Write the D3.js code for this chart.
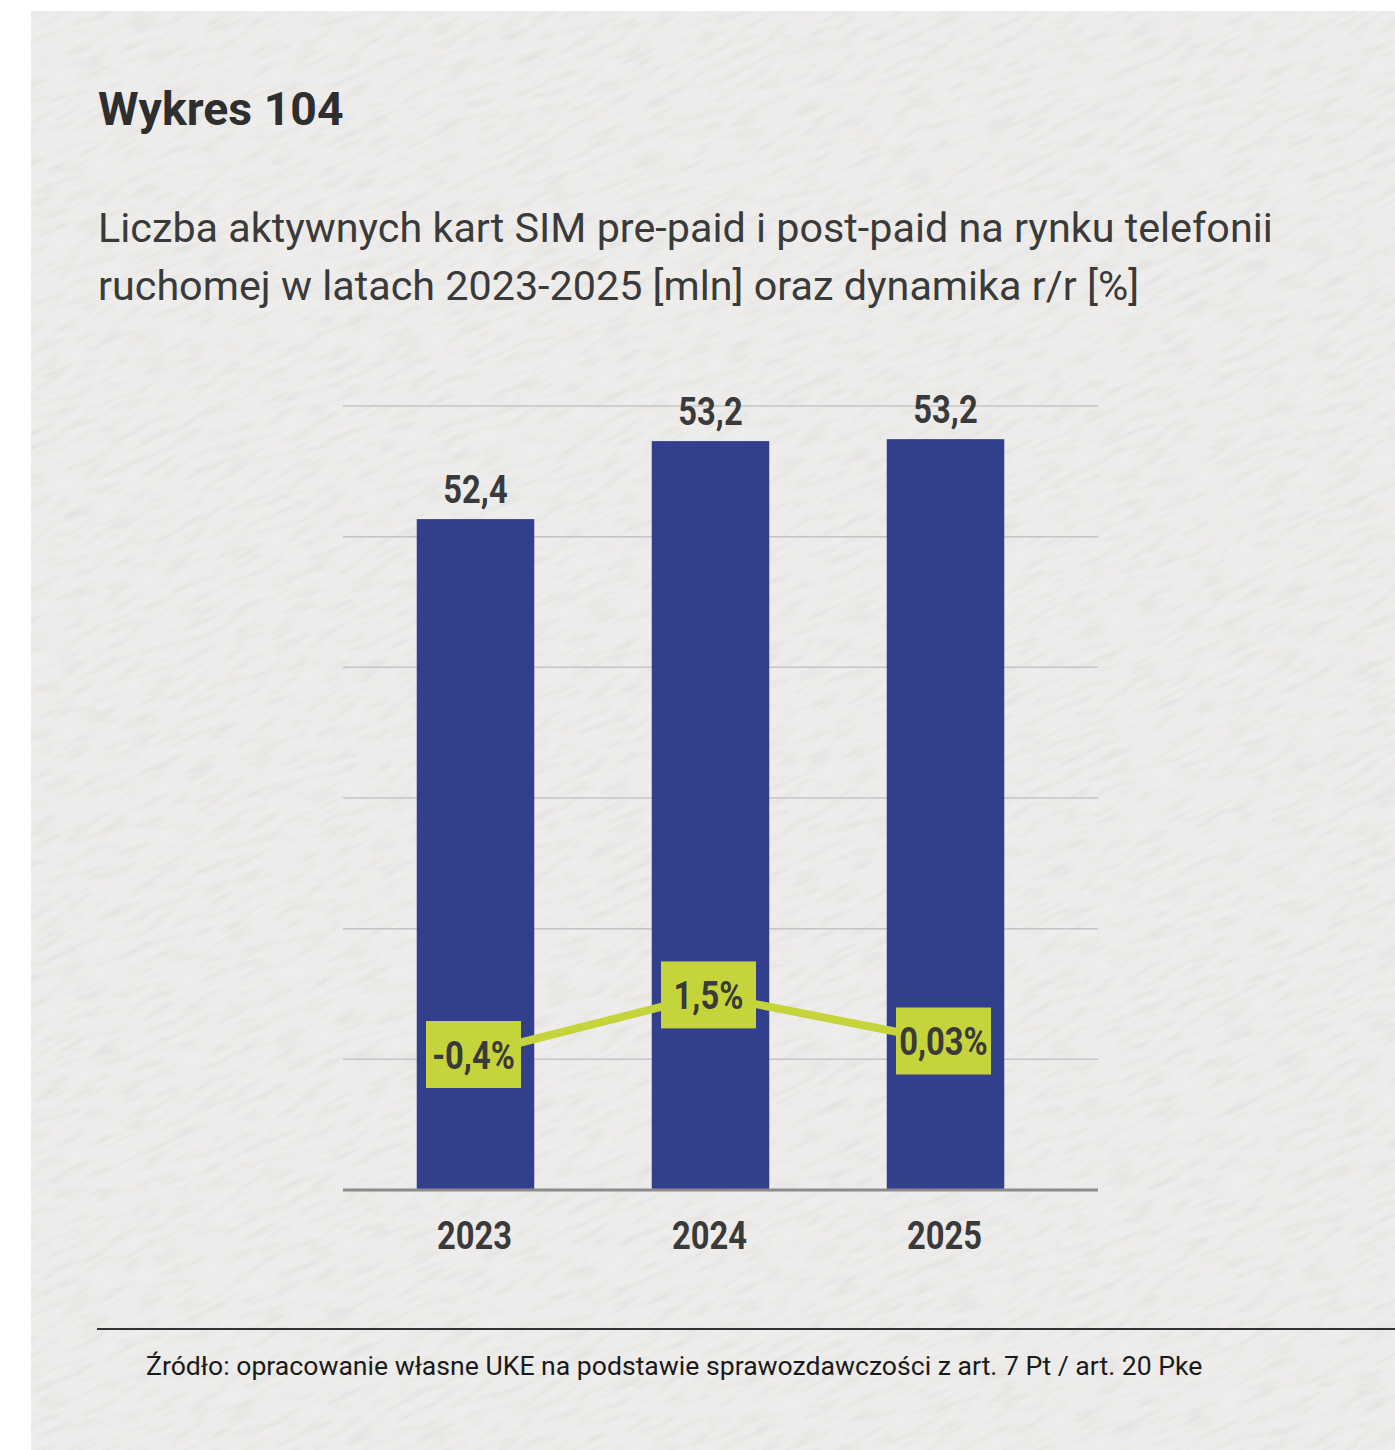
<!DOCTYPE html>
<html><head><meta charset="utf-8">
<script src="https://cdn.jsdelivr.net/npm/d3@7"></script>
<style>
html,body{margin:0;padding:0;background:#fff;}
svg{display:block;}
</style></head>
<body>
<script>
const categories = ["2023", "2024", "2025"];
const simCards = [52.4, 53.2, 53.22];          // mln
const simLabels = ["52,4", "53,2", "53,2"];
const growth = [-0.4, 1.5, 0.03];               // % r/r
const growthLabels = ["-0,4%", "1,5%", "0,03%"];
const titleText = "Wykres 104";
const subtitleLines = ["Liczba aktywnych kart SIM pre-paid i post-paid na rynku telefonii",
                       "ruchomej w latach 2023-2025 [mln] oraz dynamika r/r [%]"];
const sourceText = "Źródło: opracowanie własne UKE na podstawie sprawozdawczości z art. 7 Pt / art. 20 Pke";

const W = 1395, H = 1450;
const svg = d3.select("body").append("svg").attr("width", W).attr("height", H);

// paper texture
const defs = svg.append("defs");
const f = defs.append("filter").attr("id","paper").attr("x",0).attr("y",0).attr("width","100%").attr("height","100%");
f.append("feTurbulence").attr("type","fractalNoise").attr("baseFrequency","0.03 0.14").attr("numOctaves",4).attr("seed",7).attr("result","n");
f.append("feColorMatrix").attr("in","n").attr("type","matrix")
  .attr("values","0 0 0 0 0.55  0 0 0 0 0.54  0 0 0 0 0.53  0 0 -1.8 0 1.0").attr("result","c");
f.append("feComposite").attr("in","c").attr("in2","SourceGraphic").attr("operator","in");
defs.append("clipPath").attr("id","pclip").append("rect").attr("x",31).attr("y",11).attr("width",W-31).attr("height",H-11);

svg.append("rect").attr("x",0).attr("y",0).attr("width",W).attr("height",H).attr("fill","#fff");
const panel = svg.append("g").attr("clip-path","url(#pclip)");
panel.append("rect").attr("x",31).attr("y",11).attr("width",W-31).attr("height",H-11).attr("fill","#efedeb");
panel.append("g").attr("transform","rotate(-25 700 700)")
  .append("rect").attr("x",-400).attr("y",-400).attr("width",2200).attr("height",2200)
  .attr("fill","#000").attr("filter","url(#paper)").attr("opacity",0.3);

// title
svg.append("text").attr("x",98).attr("y",125).text(titleText)
  .attr("font-family","Roboto").attr("font-weight",700).attr("font-size",46.4).attr("fill","#2e2e2e");
svg.append("g").selectAll("text").data(subtitleLines).join("text")
  .attr("x",98).attr("y",(d,i)=>242+i*58).text(d=>d)
  .attr("font-family","Roboto").attr("font-weight",400).attr("font-size",41.3).attr("fill","#3a3a3a");

// scales
const x = d3.scaleBand().domain(categories).range([358,1063]).paddingInner(0.5).paddingOuter(0.25);
const y = d3.scaleLinear().domain([45.52, 53.56]).range([1190, 406]);
const yP = d3.scaleLinear().domain([-0.4, 1.5]).range([1054.5, 994.9]);

// gridlines
const gridVals = d3.range(1,7).map(i => y.domain()[0] + i*(y.domain()[1]-y.domain()[0])/6);
svg.append("g").selectAll("line").data(gridVals).join("line")
  .attr("x1",343).attr("x2",1098).attr("y1",d=>y(d)).attr("y2",d=>y(d))
  .attr("stroke","#c4c4c4").attr("stroke-width",1.5);

// bars
svg.append("g").selectAll("rect").data(simCards).join("rect")
  .attr("x",(d,i)=>x(categories[i])).attr("width",x.bandwidth())
  .attr("y",d=>y(d)).attr("height",d=>y(y.domain()[0])-y(d))
  .attr("fill","#323f8c");

// baseline axis
const xAxis = svg.append("g").attr("transform",`translate(0,${y(y.domain()[0])})`)
  .call(d3.axisBottom(x).tickSize(0).tickPadding(0));
xAxis.select(".domain").remove();
xAxis.selectAll(".tick text").remove();
svg.append("line").attr("x1",343).attr("x2",1098).attr("y1",1190).attr("y2",1190)
  .attr("stroke","#8c8c8c").attr("stroke-width",3);

const condensed = (sel, sx) => sel.each(function(){
  const t = d3.select(this); const xx = +t.attr("x"), yy = +t.attr("y");
  t.attr("transform",`translate(${xx},${yy}) scale(${sx},1)`).attr("x",0).attr("y",0);
});

svg.append("g").selectAll("text").data(categories).join("text")
  .attr("x",d=>x(d)+x.bandwidth()/2-1).attr("y",1249).text(d=>d)
  .attr("text-anchor","middle").attr("font-family","Roboto").attr("font-weight",700)
  .attr("font-size",39).attr("fill","#3a3a3a").call(condensed,0.84);

// bar value labels
svg.append("g").selectAll("text").data(simCards).join("text")
  .attr("x",(d,i)=>x(categories[i])+x.bandwidth()/2).attr("y",d=>y(d)-16)
  .text((d,i)=>simLabels[i])
  .attr("text-anchor","middle").attr("font-family","Roboto").attr("font-weight",700)
  .attr("font-size",39).attr("fill","#3a3a3a").call(condensed,0.84);

// growth line
const cx = (i)=>x(categories[i])+x.bandwidth()/2-2;
const line = d3.line().x((d,i)=>cx(i)).y(d=>yP(d));
svg.append("path").datum(growth).attr("d",line).attr("fill","none")
  .attr("stroke","#c5d43b").attr("stroke-width",8);
const boxes = svg.append("g").selectAll("g").data(growth).join("g")
  .attr("transform",(d,i)=>`translate(${cx(i)},${yP(d)})`);
boxes.append("rect").attr("x",-47.5).attr("y",-33.5).attr("width",95).attr("height",67).attr("fill","#c5d43b");
boxes.append("text").attr("x",0).attr("y",14).text((d,i)=>growthLabels[i])
  .attr("text-anchor","middle").attr("font-family","Roboto").attr("font-weight",700)
  .attr("font-size",39).attr("fill","#3a3a3a").call(condensed,0.84);

// source
svg.append("line").attr("x1",97).attr("x2",W).attr("y1",1329).attr("y2",1329)
  .attr("stroke","#333").attr("stroke-width",2);
svg.append("text").attr("x",146).attr("y",1375).text(sourceText)
  .attr("font-family","Roboto").attr("font-size",26.6).attr("fill","#1a1a1a");
</script>
</body></html>
